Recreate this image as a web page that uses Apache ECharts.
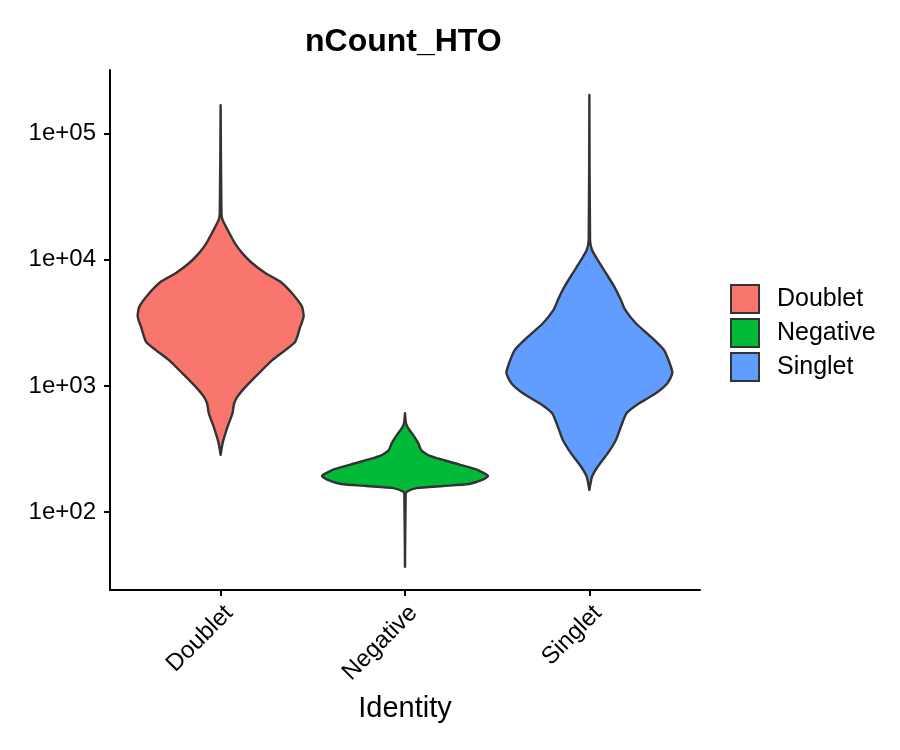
<!DOCTYPE html>
<html>
<head>
<meta charset="utf-8">
<script src="https://cdn.jsdelivr.net/npm/echarts@6/dist/echarts.min.js"></script>
<style>
  html, body { margin: 0; padding: 0; background: #fff; }
  #main { width: 900px; height: 750px; }
</style>
</head>
<body>
<div id="main"></div>
<script>
var identities = ['Doublet', 'Negative', 'Singlet'];
var colors = ['#F8766D', '#00BA38', '#619CFF'];
var yTicks = [100, 1000, 10000, 100000];

// violin outlines: nCount value and relative density (1 = widest)
var doubletVals = [167000, 23300, 20600, 17200, 13500, 11200, 9350, 7800, 6680, 5410, 4240, 3530, 2940, 2240, 1920, 1600, 1260, 986, 822, 728, 607, 475, 352, 284];
var doubletDens = [0, 0.01, 0.024, 0.084, 0.171, 0.263, 0.382, 0.542, 0.721, 0.861, 0.98, 1, 0.96, 0.9, 0.781, 0.622, 0.462, 0.303, 0.203, 0.163, 0.143, 0.084, 0.024, 0];

var negativeVals = [607, 506, 461, 408, 352, 307, 279, 244, 219, 194, 180, 167, 161, 155, 145, 137, 37];
var negativeDens = [0, 0.012, 0.04, 0.1, 0.16, 0.2, 0.3, 0.6, 0.85, 1, 0.93, 0.77, 0.46, 0.14, 0.02, 0.008, 0];

var singletVals = [201000, 14300, 11900, 9930, 7800, 6110, 4790, 3990, 3130, 2450, 1920, 1510, 1260, 1050, 873, 728, 607, 475, 373, 292, 229, 191, 150];
var singletDens = [0, 0.008, 0.032, 0.1, 0.2, 0.3, 0.38, 0.432, 0.56, 0.74, 0.9, 0.968, 1, 0.94, 0.8, 0.6, 0.448, 0.38, 0.32, 0.22, 0.1, 0.032, 0];

var violins = [
    {vals: doubletVals, dens: doubletDens},
    {vals: negativeVals, dens: negativeDens},
    {vals: singletVals, dens: singletDens}
];

var halfWidth = 0.45;
var font = "'Liberation Sans', Arial, Helvetica, sans-serif";

function violinItem(idx) {
    return function (params, api) {
        var v = violins[idx];
        var left = [];
        var right = [];
        for (var i = 0; i < v.vals.length; i++) {
            left.push(api.coord([idx - halfWidth * v.dens[i], v.vals[i]]));
            right.unshift(api.coord([idx + halfWidth * v.dens[i], v.vals[i]]));
        }
        return {
            type: 'polygon',
            shape: {points: left.concat(right), smooth: 0.2},
            style: {fill: colors[idx], stroke: '#333333', lineWidth: 2.4, lineJoin: 'round'}
        };
    };
}

function expLabel(v) {
    var e = Math.round(Math.log10(v));
    return '1e+' + (e < 10 ? '0' : '') + e;
}

var chart = echarts.init(document.getElementById('main'));

var series = [];
for (var i = 0; i < identities.length; i++) {
    series.push({
        name: identities[i],
        type: 'custom',
        renderItem: violinItem(i),
        itemStyle: {color: colors[i], borderColor: '#333333', borderWidth: 2},
        data: [[i, violins[i].vals[0]]],
        animation: false,
        silent: true
    });
}

chart.setOption({
    backgroundColor: '#ffffff',
    animation: false,
    title: {
        text: 'nCount_HTO',
        left: 300,
        top: 21,
        textStyle: {fontFamily: font, fontSize: 32, fontWeight: 'bold', color: '#000'}
    },
    legend: {
        orient: 'vertical',
        left: 730,
        top: 284,
        padding: 0,
        itemWidth: 28,
        itemHeight: 28,
        itemGap: 4,
        icon: 'rect',
        selectedMode: false,
        data: identities.map(function (n, i) {
            return {name: n, itemStyle: {color: colors[i], borderColor: '#333333', borderWidth: 2}};
        }),
        textStyle: {fontFamily: font, fontSize: 25, color: '#000', padding: [0, 0, 0, 13]}
    },
    grid: {left: 110, right: 200, top: 70, bottom: 160, containLabel: false},
    xAxis: {
        type: 'value',
        min: -0.6,
        max: 2.6,
        name: 'Identity',
        nameLocation: 'middle',
        nameGap: 104,
        nameTextStyle: {fontFamily: font, fontSize: 29, color: '#000'},
        axisLine: {show: true, onZero: false, lineStyle: {color: '#000', width: 2}},
        axisTick: {show: true, length: 6, lineStyle: {color: '#000', width: 2}, customValues: [0, 1, 2]},
        axisLabel: {
            customValues: [0, 1, 2],
            rotate: 45,
            margin: 11,
            verticalAlign: 'top',
            fontFamily: font,
            fontSize: 24,
            color: '#000',
            formatter: function (v) { return identities[Math.round(v)]; }
        },
        splitLine: {show: false}
    },
    yAxis: {
        type: 'log',
        logBase: 10,
        min: 24.2,
        max: 317000,
        axisLine: {show: true, onZero: false, lineStyle: {color: '#000', width: 2}},
        axisTick: {show: true, length: 6, lineStyle: {color: '#000', width: 2}, customValues: yTicks},
        axisLabel: {
            customValues: yTicks,
            margin: 14,
            fontFamily: font,
            fontSize: 24,
            color: '#000',
            formatter: expLabel
        },
        splitLine: {show: false}
    },
    series: series
});
</script>
</body>
</html>
